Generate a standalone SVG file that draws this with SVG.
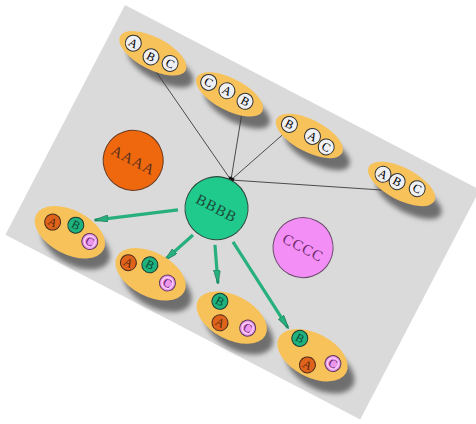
<svg xmlns="http://www.w3.org/2000/svg" width="476" height="424" viewBox="0 0 476 424">
<style>
.bg{fill:#dadada}
.ell{fill:#f7c25a}
.shd{fill:#6e6e6e;filter:url(#blur)}
.sw{fill:#eef0f4;stroke:#333;stroke-width:1}
.sa{fill:#e0631c;stroke:#4a2a1a;stroke-width:1}
.sb{fill:#1fb27f;stroke:#1d3a30;stroke-width:1}
.sc{fill:#ee96ee;stroke:#5a3a5a;stroke-width:1}
.ring{fill:none;stroke:#fbe0fb;stroke-width:1}
.lt{font-family:"Liberation Serif","DejaVu Serif",serif;font-size:12px;text-anchor:middle;dominant-baseline:central}
.big{font-family:"Liberation Serif","DejaVu Serif",serif;font-size:15px;text-anchor:middle;dominant-baseline:central;fill:#5a3020;letter-spacing:1px}
.thin{stroke:#3a3a3a;stroke-width:0.8;fill:none}
.arr{stroke:#27b07d;stroke-width:3.2;fill:none;marker-end:url(#ah)}
</style>
<defs>
<filter id="blur" x="-30%" y="-50%" width="160%" height="200%"><feGaussianBlur stdDeviation="2.5"/></filter>
<marker id="ah" viewBox="0 0 14 7" refX="13" refY="3.5" markerWidth="14" markerHeight="7" markerUnits="userSpaceOnUse" orient="auto">
<path d="M0,0 L14,3.5 L0,7 Z" fill="#27b07d" stroke="#1a6a4c" stroke-width="0.6"/>
</marker>
</defs>
<rect width="476" height="424" fill="#ffffff"/>
<g transform="translate(125,5) rotate(27.5)">
<rect class="bg" x="0" y="0" width="400" height="259"/>
<g id="shadows">
<ellipse class="shd" cx="60" cy="38" rx="36" ry="15"/>
<ellipse class="shd" cx="147" cy="39" rx="36" ry="15"/>
<ellipse class="shd" cx="237" cy="39" rx="36" ry="15"/>
<ellipse class="shd" cx="341" cy="40" rx="36" ry="15"/>
<ellipse class="shd" cx="67" cy="235" rx="37" ry="21"/>
<ellipse class="shd" cx="159" cy="235" rx="37" ry="21"/>
<ellipse class="shd" cx="251" cy="235" rx="37" ry="21"/>
<ellipse class="shd" cx="341" cy="232" rx="37" ry="21"/>
</g>
<g id="connectors">
<line class="thin" x1="174.8" y1="106.3" x2="53" y2="42"/>
<line class="thin" x1="174.8" y1="106.3" x2="152" y2="37"/>
<line class="thin" x1="174.8" y1="106.3" x2="201" y2="39"/>
<line class="thin" x1="174.8" y1="106.3" x2="319" y2="43"/>
<rect x="172" y="103.5" width="5.5" height="5.5" fill="#111"/>
<line class="arr" x1="141.6" y1="157.3" x2="72.7" y2="204.6"/>
<line class="arr" x1="166.5" y1="172.6" x2="153.2" y2="207.7"/>
<line class="arr" x1="190.6" y1="171.3" x2="210.8" y2="203.7"/>
<line class="arr" x1="205.2" y1="160.3" x2="293.7" y2="211.2"/>
</g>
<g id="e1">
<ellipse class="ell" cx="47" cy="30" rx="37" ry="16"/>
<circle class="sw" cx="25" cy="30" r="8"/><text class="lt" x="25" y="30">A</text>
<circle class="sw" cx="47" cy="34" r="8"/><text class="lt" x="47" y="34">B</text>
<circle class="sw" cx="67" cy="31" r="8"/><text class="lt" x="67" y="31">C</text>
</g>
<g id="e2">
<ellipse class="ell" cx="134" cy="31" rx="37" ry="16"/>
<circle class="sw" cx="110" cy="30" r="8"/><text class="lt" x="110" y="30">C</text>
<circle class="sw" cx="130" cy="29" r="8"/><text class="lt" x="130" y="29">A</text>
<circle class="sw" cx="151" cy="30" r="8"/><text class="lt" x="151" y="30">B</text>
</g>
<g id="e3">
<ellipse class="ell" cx="224" cy="31" rx="37" ry="16"/>
<circle class="sw" cx="201" cy="30" r="8"/><text class="lt" x="201" y="30">B</text>
<circle class="sw" cx="227" cy="30" r="8"/><text class="lt" x="227" y="30">A</text>
<circle class="sw" cx="244" cy="33" r="8"/><text class="lt" x="244" y="33">C</text>
</g>
<g id="e4">
<ellipse class="ell" cx="328" cy="31" rx="37" ry="16"/>
<circle class="sw" cx="307" cy="31" r="8"/><text class="lt" x="307" y="31">A</text>
<circle class="sw" cx="323" cy="31" r="8"/><text class="lt" x="323" y="31">B</text>
<circle class="sw" cx="344" cy="28" r="8"/><text class="lt" x="344" y="28">C</text>
</g>
<g id="aaaa">
<circle cx="79" cy="134" r="30" fill="#f0680e" stroke="#6a3a20" stroke-width="1"/>
<text class="big" x="79" y="134">AAAA</text>
</g>
<g id="bbbb">
<circle cx="175" cy="138" r="31.5" fill="#1fca8c" stroke="#2f4a40" stroke-width="1"/>
<text class="big" x="175" y="138" style="fill:#1c4a38">BBBB</text>
</g>
<g id="cccc">
<circle cx="270" cy="133" r="30" fill="#f28ef5" stroke="#6a4a6a" stroke-width="1"/>
<text class="big" x="270" y="133" style="fill:#6a2a6a">CCCC</text>
</g>
<g id="e5">
<ellipse class="ell" cx="56" cy="227" rx="38" ry="22"/>
<circle class="sa" cx="36" cy="226" r="8"/><text class="lt" x="36" y="226" fill="#5a2a10">A</text>
<circle class="sb" cx="58" cy="218" r="8"/><text class="lt" x="58" y="218" fill="#0b4a32">B</text>
<circle class="sc" cx="78" cy="226" r="8"/><circle class="ring" cx="78" cy="226" r="5.5"/><text class="lt" x="78" y="226" fill="#6a2a6a">C</text>
</g>
<g id="e6">
<ellipse class="ell" cx="147" cy="227" rx="38" ry="22"/>
<circle class="sa" cx="122" cy="227" r="8"/><text class="lt" x="122" y="227" fill="#5a2a10">A</text>
<circle class="sb" cx="142" cy="219" r="8"/><text class="lt" x="142" y="219" fill="#0b4a32">B</text>
<circle class="sc" cx="166" cy="227" r="8"/><circle class="ring" cx="166" cy="227" r="5.5"/><text class="lt" x="166" y="227" fill="#6a2a6a">C</text>
</g>
<g id="e7">
<ellipse class="ell" cx="239" cy="228" rx="38" ry="22"/>
<circle class="sb" cx="221" cy="219" r="8"/><text class="lt" x="221" y="219" fill="#0b4a32">B</text>
<circle class="sa" cx="231" cy="238" r="8"/><text class="lt" x="231" y="238" fill="#5a2a10">A</text>
<circle class="sc" cx="258" cy="230" r="8"/><circle class="ring" cx="258" cy="230" r="5.5"/><text class="lt" x="258" y="230" fill="#6a2a6a">C</text>
</g>
<g id="e8">
<ellipse class="ell" cx="328" cy="224" rx="38" ry="22"/>
<circle class="sb" cx="309" cy="215" r="8"/><text class="lt" x="309" y="215" fill="#0b4a32">B</text>
<circle class="sa" cx="328" cy="235" r="8"/><text class="lt" x="328" y="235" fill="#5a2a10">A</text>
<circle class="sc" cx="350" cy="222" r="8"/><circle class="ring" cx="350" cy="222" r="5.5"/><text class="lt" x="350" y="222" fill="#6a2a6a">C</text>
</g>
</g>
</svg>
